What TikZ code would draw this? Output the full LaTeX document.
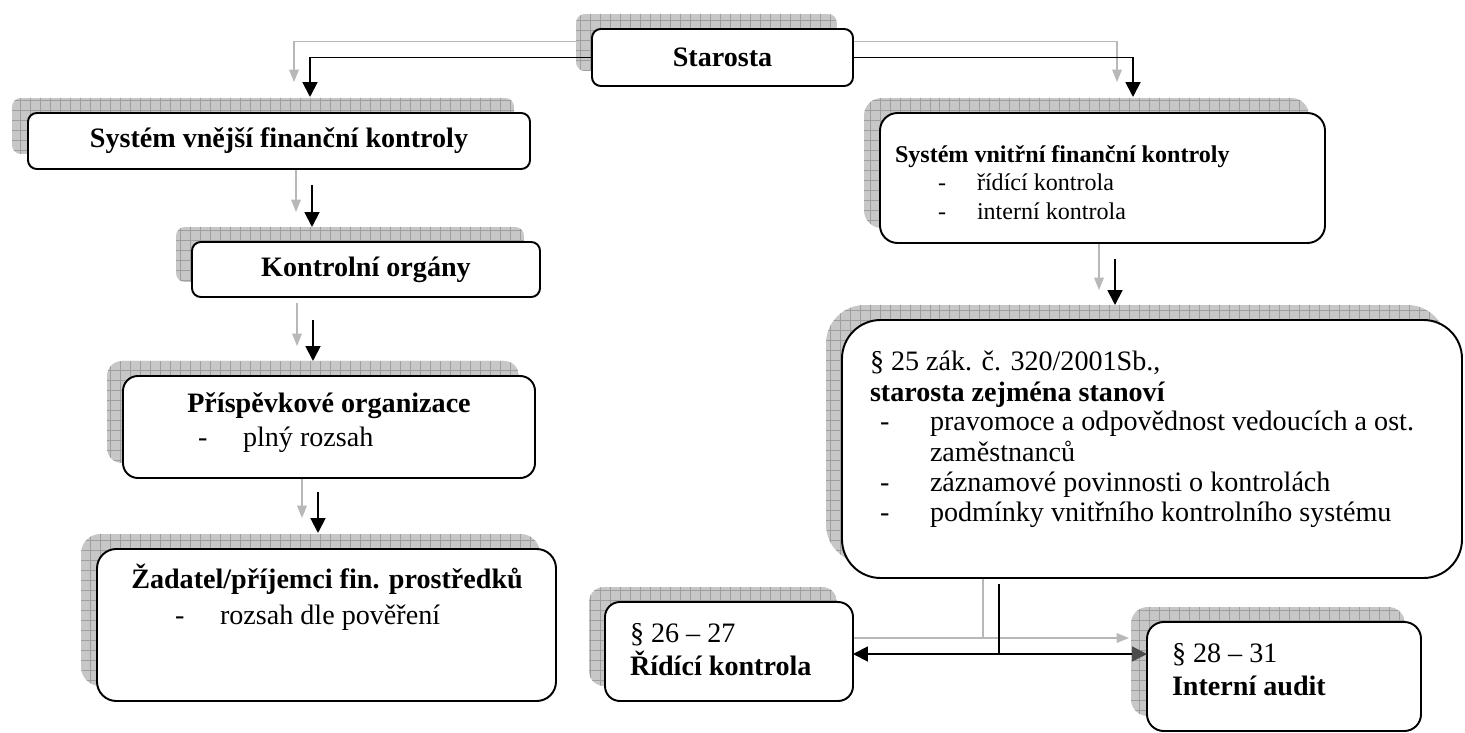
\documentclass[tikz,border=0pt]{standalone}
\usepackage{fontspec}
\setmainfont{Liberation Serif}
\usetikzlibrary{arrows.meta}
\pgfdeclarelayer{bg}
\pgfsetlayers{bg,main}
\tikzset{
  box/.style={draw=black, line width=1.1pt, fill=white, inner sep=0pt, outer sep=0pt, font=\fontsize{16}{19}\selectfont},
  txt/.style={inner sep=0pt, outer sep=0pt, font=\fontsize{16}{19}\selectfont, anchor=base west},
  ctxt/.style={inner sep=0pt, outer sep=0pt, font=\fontsize{16}{19}\selectfont, anchor=base},
  stxt/.style={inner sep=0pt, outer sep=0pt, font=\fontsize{13.7}{16.5}\selectfont, anchor=base west},
  blk/.style={line width=1.1pt, -{Triangle[length=8.5pt,width=8.5pt]}},
  blkline/.style={line width=1.1pt},
  gry/.style={draw=black!28, line width=0.6pt, -{Triangle[length=7pt,width=5.5pt]}},
  gryline/.style={draw=black!28, line width=0.6pt},
  shfill/.style={fill=black!22},
  shgrid/.style={draw=black!38, line width=0.35pt},
}
% name, x1, y1, x2, y2, radius, content
\newcommand\mybox[7]{%
  \begin{scope}
    \clip[rounded corners=#6] ({#2-16},{#3-15}) rectangle ({#4-16},{#5-15});
    \fill[shfill] ({#2-16},{#3-15}) rectangle ({#4-16},{#5-15});
    \draw[shgrid, step=0.2cm] ({#2-40},{#3-40}) grid ({#4},{#5});
  \end{scope}
  \node[box, rounded corners=#6, minimum width={(#4-#2)*0.02cm}, minimum height={(#5-#3)*0.02cm}] (#1) at ({(#2+#4)/2},{(#3+#5)/2}) {#7};
}
\begin{document}
\begin{tikzpicture}[x=0.02cm,y=-0.02cm]
\useasboundingbox (0,0) rectangle (1465,733);

% connector coordinates
\coordinate (t1) at (310,97);
\coordinate (t2) at (1133,97);
\coordinate (s3) at (312,185);
\coordinate (t3) at (312,227);
\coordinate (s4) at (313,320);
\coordinate (t4) at (313,361);
\coordinate (s5) at (318,492);
\coordinate (t5) at (318,533);
\coordinate (s6) at (1115,259);
\coordinate (t6) at (1115,305);
\coordinate (s7) at (999,584);
\coordinate (j7) at (999,654);

% boxes
\mybox{star}{592}{29}{853}{86}{5pt}{\textbf{Starosta}}
\mybox{svn}{28}{113}{530}{169}{5pt}{\textbf{Systém vnější finanční kontroly}}
\mybox{ko}{192}{242}{540}{297}{5pt}{\textbf{Kontrolní orgány}}
\mybox{po}{123}{376}{535}{478}{8.5pt}{}
\mybox{za}{97}{549}{556}{701}{11pt}{}
\mybox{svi}{880}{113}{1325}{243}{10pt}{}
\mybox{p25}{842}{320}{1462}{578}{22pt}{}
\mybox{rk}{605}{602}{853}{701}{8.5pt}{}
\mybox{ia}{1147}{622}{1421}{731}{9.5pt}{}

% texts
\node[ctxt] (po1) at (329,413) {\textbf{Příspěvkové organizace}};
\node[txt] (po2) at (198,446) {-};
\node[txt] (po3) at (243,446) {plný rozsah};

\node[ctxt] (za1) at (327,588) {\textbf{Žadatel/příjemci fin. prostředků}};
\node[txt] (za2) at (175,624) {-};
\node[txt] (za3) at (220,624) {rozsah dle pověření};

\node[stxt] (svi1) at (895,163) {\textbf{Systém vnitřní finanční kontroly}};
\node[stxt] (svi2) at (938,191) {-};
\node[stxt] (svi3) at (977,191) {řídící kontrola};
\node[stxt] (svi4) at (938,220) {-};
\node[stxt] (svi5) at (977,220) {interní kontrola};

\node[txt] (p1) at (870,371) {§ 25 zák. č. 320/2001Sb.,};
\node[txt] (p2) at (870,401) {\textbf{starosta zejména stanoví}};
\node[txt] (p3) at (880,431) {-};
\node[txt] (p4) at (930,431) {pravomoce a odpovědnost vedoucích a ost.};
\node[txt] (p5) at (930,461) {zaměstnanců};
\node[txt] (p6) at (880,491) {-};
\node[txt] (p7) at (930,491) {záznamové povinnosti o kontrolách};
\node[txt] (p8) at (880,521) {-};
\node[txt] (p9) at (930,521) {podmínky vnitřního kontrolního systému};

\node[txt] (rk1) at (630,642) {§ 26 – 27};
\node[txt] (rk2) at (630,675) {\textbf{Řídící kontrola}};

\node[txt] (ia1) at (1172,662) {§ 28 – 31};
\node[txt] (ia2) at (1172,695) {\textbf{Interní audit}};

% black connectors
\draw[blk] (star.west) -| (t1);
\draw[blk] (star.east) -| (t2);
\draw[blk] (s3) -- (t3);
\draw[blk] (s4) -- (t4);
\draw[blk] (s5) -- (t5);
\draw[blk] (s6) -- (t6);
\draw[blkline] (s7) -- (j7);
\draw[blk] (j7) -- (j7 -| rk.east);
\draw[line width=1.1pt, -{Triangle[length=8.5pt,width=8.5pt,color=black!70]}] (j7) -- (j7 -| ia.west);

% grey shadow connectors
\begin{pgfonlayer}{bg}
\draw[gry] ([shift={(-16,-16)}]star.west) -| ([shift={(-16,-15)}]t1);
\draw[gry] ([shift={(-16,-16)}]star.east) -| ([shift={(-16,-15)}]t2);
\draw[gry] ([shift={(-16,-15)}]s3) -- ([shift={(-16,-15)}]t3);
\draw[gry] ([shift={(-16,-17)}]s4) -- ([shift={(-16,-15)}]t4);
\draw[gry] ([shift={(-16,-14)}]s5) -- ([shift={(-16,-15)}]t5);
\draw[gry] ([shift={(-16,-15)}]s6) -- ([shift={(-16,-15)}]t6);
\draw[gryline] ([shift={(-16,-16)}]s7) -- ([shift={(-16,-16)}]j7);
\draw[gry] ([shift={(-16,-16)}]j7) -- ([shift={(-16,-16)}]j7 -| rk.east);
\draw[gry] ([shift={(-16,-16)}]j7) -- ([shift={(-18,-16)}]j7 -| ia.west);
\end{pgfonlayer}
\end{tikzpicture}
\end{document}
